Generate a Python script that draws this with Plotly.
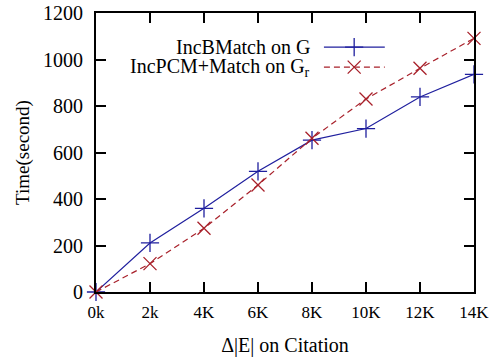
import plotly.graph_objects as go

x_vals = [0, 2, 4, 6, 8, 10, 12, 14]
x_labels = ["0k", "2k", "4K", "6K", "8K", "10K", "12K", "14K"]
inc_b = [0, 211, 360, 519, 653, 703, 839, 936]
inc_pcm = [0, 122, 274, 460, 661, 830, 962, 1091]
y_ticks = [0, 200, 400, 600, 800, 1000, 1200]
names = ["IncBMatch on G", "IncPCM+Match on G<sub>r</sub>"]

BLUE = "#1f1f9e"
RED = "#a8202a"
FONT = "Liberation Serif"

fig = go.Figure()
fig.add_trace(go.Scatter(x=x_vals, y=inc_b, mode="lines+markers", showlegend=False,
                         line=dict(color=BLUE, width=1.2),
                         marker=dict(symbol="cross-thin", size=13, line=dict(color=BLUE, width=1.3)),
                         cliponaxis=False))
fig.add_trace(go.Scatter(x=x_vals, y=inc_pcm, mode="lines+markers", showlegend=False,
                         line=dict(color=RED, width=1.2, dash="6px,4px"),
                         marker=dict(symbol="x-thin", size=13, line=dict(color=RED, width=1.3)),
                         cliponaxis=False))

# manual legend (text left of sample, gnuplot style)
leg_y = [0.878, 0.806]
cols = [BLUE, RED]
dashes = ["solid", "6px,4px"]
syms = ["cross-thin", "x-thin"]
for i in range(2):
    fig.add_annotation(xref="paper", yref="paper", x=0.571, y=leg_y[i], text=names[i],
                       showarrow=False, xanchor="right", yanchor="middle",
                       font=dict(family=FONT, size=20, color="black"))
    fig.add_trace(go.Scatter(x=[0.603, 0.764], y=[leg_y[i], leg_y[i]], xaxis="x2", yaxis="y2",
                             mode="lines", showlegend=False, hoverinfo="skip",
                             line=dict(color=cols[i], width=1.2, dash=dashes[i])))
    fig.add_trace(go.Scatter(x=[0.683], y=[leg_y[i]], xaxis="x2", yaxis="y2",
                             mode="markers", showlegend=False, hoverinfo="skip",
                             marker=dict(symbol=syms[i], size=13, line=dict(color=cols[i], width=1.3))))

axis_common = dict(showline=True, linecolor="black", linewidth=2, mirror="ticks",
                   ticks="inside", ticklen=10, tickwidth=1.5, tickcolor="black",
                   showgrid=False, zeroline=False, automargin=False)

fig.update_layout(
    width=497, height=358,
    margin=dict(l=96, r=23, t=13, b=66),
    paper_bgcolor="white", plot_bgcolor="white",
    font=dict(family=FONT, color="black"),
    xaxis=dict(range=[0, 14], tickmode="array", tickvals=x_vals, ticktext=x_labels,
               tickfont=dict(family=FONT, size=17, color="black"), ticklabelstandoff=4,
               title=dict(text="Δ|E| on Citation", font=dict(family=FONT, size=20, color="black"), standoff=17),
               **axis_common),
    yaxis=dict(range=[0, 1200], tickmode="array", tickvals=y_ticks,
               tickfont=dict(family=FONT, size=20, color="black"), ticklabelstandoff=7,
               title=dict(text="Time(second)", font=dict(family=FONT, size=19, color="black"), standoff=8),
               **axis_common),
    xaxis2=dict(range=[0, 1], overlaying="x", visible=False),
    yaxis2=dict(range=[0, 1], overlaying="y", visible=False),
)

fig.write_html("out.html")
